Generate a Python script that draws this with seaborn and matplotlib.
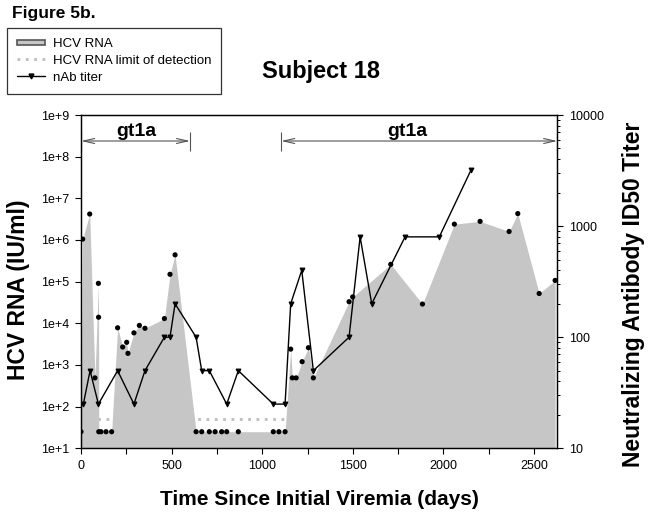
import numpy as np
import pandas as pd
import matplotlib
matplotlib.use("Agg")
import matplotlib.pyplot as plt
import seaborn as sns
from matplotlib.lines import Line2D
from matplotlib.patches import Patch, Rectangle
from matplotlib.legend_handler import HandlerPatch
from matplotlib.ticker import FixedLocator, MultipleLocator, LogLocator, NullFormatter

# HCV RNA measurements (values below detection plotted at 25)
rna_days = [0, 9, 48, 77, 96, 97, 98, 110, 138, 169,
            202, 230, 252, 259, 292, 322, 353, 460, 491, 519,
            635, 666, 708, 740, 776, 804, 868,
            1061, 1092, 1126,
            1157, 1166, 1187, 1220, 1255, 1282,
            1479, 1499, 1709, 1884,
            2060, 2202, 2362, 2410, 2528, 2616]
rna_values = [25, 1.05e6, 4.2e6, 490, 9.1e4, 1.4e4, 25, 25, 25, 25,
              7.8e3, 2.7e3, 3.5e3, 1.9e3, 5.9e3, 8.9e3, 7.6e3, 1.3e4, 1.5e5, 4.4e5,
              25, 25, 25, 25, 25, 25, 25,
              25, 25, 25,
              2.4e3, 490, 490, 1.2e3, 2.6e3, 490,
              3.3e4, 4.3e4, 2.6e5, 2.9e4,
              2.4e6, 2.8e6, 1.6e6, 4.3e6, 5.2e4, 1.07e5]

# neutralizing antibody titers
titer_days = [13, 50, 96, 202, 292, 353, 460, 491, 519, 635, 666, 708, 804,
              868, 1061, 1126, 1157, 1218, 1282, 1479, 1540, 1604, 1788, 1977, 2152]
titer_values = [25, 50, 25, 50, 25, 50, 100, 100, 200, 100, 50, 50, 25,
                50, 25, 25, 200, 400, 50, 100, 800, 200, 800, 800, 3200]

detect_limit = 50
detect_days = [0, 1126]

gt_spans = [(0, 602), (1104, 2628)]
gt_text_x = [305, 1800]
gt_labels = ["gt1a", "gt1a"]

rna_ticks = [1e1, 1e2, 1e3, 1e4, 1e5, 1e6, 1e7, 1e8, 1e9]
rna_tick_labels = ["1e+1", "1e+2", "1e+3", "1e+4", "1e+5", "1e+6", "1e+7", "1e+8", "1e+9"]
titer_ticks = [10, 100, 1000, 10000]
titer_tick_labels = ["10", "100", "1000", "10000"]

rna = pd.DataFrame({"day": rna_days, "rna": rna_values})
nab = pd.DataFrame({"day": titer_days, "titer": titer_values})

sns.set_style("ticks")
plt.rcParams["font.family"] = ["Liberation Sans", "DejaVu Sans"]
plt.rcParams.update({"text.color": "black", "axes.labelcolor": "black",
                     "xtick.color": "black", "ytick.color": "black"})

fig = plt.figure(figsize=(6.49, 5.17), dpi=100)
ax = fig.add_axes([81 / 649, 1 - 448.3 / 517, 476.3 / 649, 333.3 / 517])

fill_col = "#c6c6c6"
ax.plot(detect_days, [detect_limit] * len(detect_days), color="#bdbdbd",
        ls=(0, (1, 2)), lw=2, zorder=1)
ax.fill_between(rna["day"], rna["rna"], 10, color=fill_col, lw=0, zorder=2)
sns.scatterplot(data=rna, x="day", y="rna", ax=ax, color="black", s=14,
                edgecolor="none", zorder=4, legend=False)

ax.set_yscale("log")
ax.set_xlim(0, 2628)
ax.set_ylim(1e1, 1e9)
ax.yaxis.set_major_locator(FixedLocator(rna_ticks))
ax.set_yticklabels(rna_tick_labels)
ax.yaxis.set_minor_locator(FixedLocator([]))
ax.xaxis.set_major_locator(MultipleLocator(500))
ax.xaxis.set_minor_locator(MultipleLocator(250))

ax2 = ax.twinx()
sns.lineplot(data=nab, x="day", y="titer", ax=ax2, color="black", lw=1,
             marker="v", markersize=3.5, markeredgecolor="black",
             estimator=None, sort=False, legend=False)
ax2.set_yscale("log")
ax2.set_ylim(10, 10000)
ax2.yaxis.set_major_locator(FixedLocator(titer_ticks))
ax2.set_yticklabels(titer_tick_labels)
ax2.yaxis.set_minor_locator(LogLocator(base=10, subs=np.arange(2, 10)))
ax2.yaxis.set_minor_formatter(NullFormatter())
ax2.set_xlim(0, 2628)

for a in (ax, ax2):
    for s in a.spines.values():
        s.set_color("black")
        s.set_linewidth(0.9)
ax.tick_params(axis="both", which="major", direction="out", length=4.5, width=0.8,
               labelsize=9, pad=4, colors="black")
ax.tick_params(axis="x", which="minor", direction="out", length=4.5, width=0.8,
               colors="black")
ax2.tick_params(axis="y", which="major", direction="out", length=4.5, width=0.8,
                labelsize=9, pad=4, colors="black")
ax2.tick_params(axis="y", which="minor", direction="out", length=2.5, width=0.7,
                colors="black")

ax.set_xlabel("Time Since Initial Viremia (days)", fontsize=15, fontweight="bold",
              color="black")
ax.set_ylabel("HCV RNA (IU/ml)", fontsize=16.5, fontweight="bold", color="black")
ax2.set_ylabel("Neutralizing Antibody ID50 Titer", fontsize=16.5, fontweight="bold",
               color="black")
ax.xaxis.set_label_coords(0.5, -0.124)
ax.yaxis.set_label_coords(-0.107, 0.475)
ax2.yaxis.set_label_coords(1.136, 0.463)

# genotype brackets
tr = ax.get_xaxis_transform()
for (x0, x1), tx, lab in zip(gt_spans, gt_text_x, gt_labels):
    ax.annotate("", xy=(x1, 0.922), xytext=(x0, 0.922), xycoords=tr, textcoords=tr,
                arrowprops=dict(arrowstyle="<->,head_length=0.8,head_width=0.18",
                                color="#555555", lw=0.8, shrinkA=0, shrinkB=0))
    ax.vlines([x0, x1], 0.892, 0.949, transform=tr, color="#555555", lw=0.8)
    ax.text(tx, 0.938, lab, transform=tr, ha="center", va="baseline",
            fontsize=14, fontweight="bold", color="black")

fig.text(321 / 649, 1 - 71 / 517, "Subject 18", ha="center", va="center",
         fontsize=17, fontweight="bold", color="black")
fig.text(12 / 649, 1 - 18.3 / 517, "Figure 5b.", ha="left", va="baseline",
         fontsize=12.5, fontweight="bold", color="black")


class FlatPatch(HandlerPatch):
    def create_artists(self, legend, orig_handle, xdescent, ydescent, width,
                       height, fontsize, trans):
        h = height * 0.55
        p = Rectangle((-xdescent, -ydescent + (height - h) / 2), width, h,
                      facecolor=fill_col, edgecolor="#555555", lw=1.2, transform=trans)
        return [p]


handles = [Patch(facecolor=fill_col, edgecolor="#555555"),
           Line2D([], [], color="#bdbdbd", ls=(0, (1, 2)), lw=2),
           Line2D([], [], color="black", lw=1, marker="v", markersize=3.5)]
labels = ["HCV RNA", "HCV RNA limit of detection", "nAb titer"]
leg = fig.legend(handles, labels, loc="upper left",
                 bbox_to_anchor=(7.3 / 649, 1 - 28.3 / 517), borderaxespad=0,
                 fontsize=9.5, frameon=True, fancybox=False, edgecolor="black",
                 handlelength=2.1, handletextpad=0.6, labelspacing=0.33,
                 borderpad=0.75, handler_map={Patch: FlatPatch()})
leg.get_frame().set_linewidth(0.9)
for t in leg.get_texts():
    t.set_color("black")

fig.savefig("out.png", dpi=100)
